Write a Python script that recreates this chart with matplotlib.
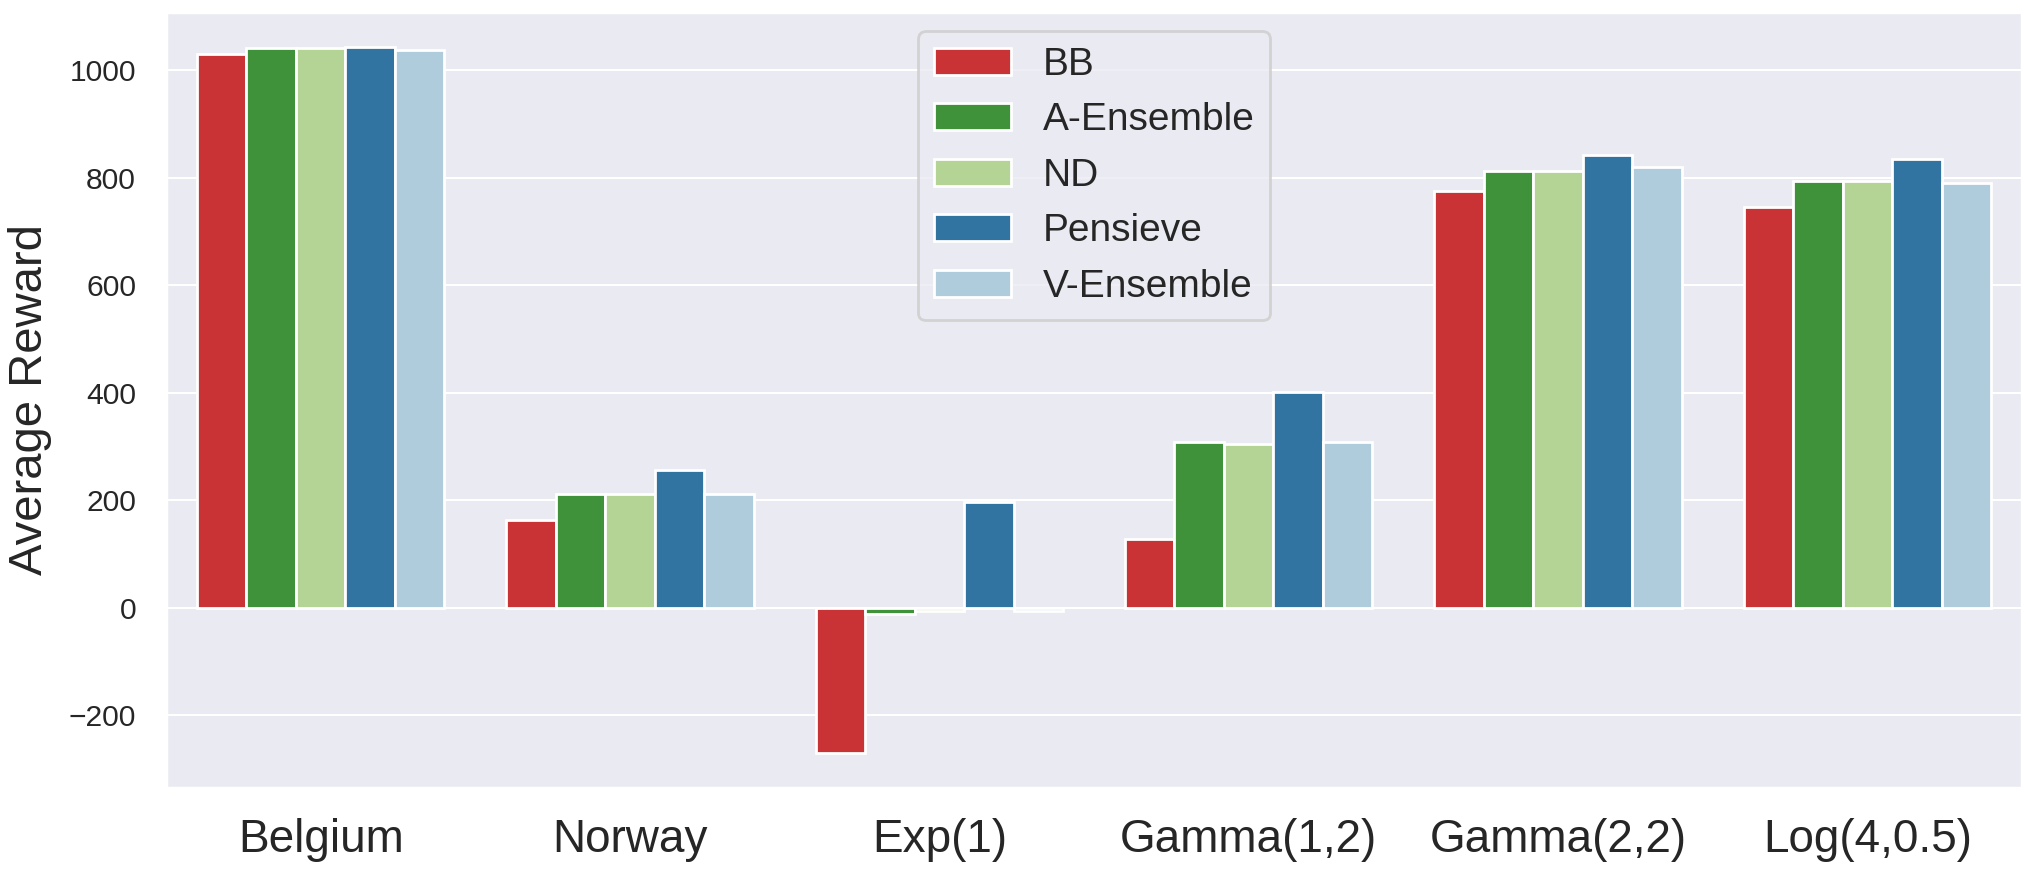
import matplotlib
matplotlib.use("Agg")
import matplotlib.pyplot as plt
import seaborn as sns
import pandas as pd

categories = ["Belgium", "Norway", "Exp(1)", "Gamma(1,2)", "Gamma(2,2)", "Log(4,0.5)"]
methods = ["BB", "A-Ensemble", "ND", "Pensieve", "V-Ensemble"]
bb = [1030, 163, -270, 127, 776, 746]
a_ensemble = [1041, 211, -11, 309, 813, 794]
nd = [1041, 211, -6, 305, 813, 794]
pensieve = [1043, 256, 197, 401, 842, 835]
v_ensemble = [1038, 211, -6, 309, 820, 791]

series = {"BB": bb, "A-Ensemble": a_ensemble, "ND": nd,
          "Pensieve": pensieve, "V-Ensemble": v_ensemble}
rows = []
for m in methods:
    for c, v in zip(categories, series[m]):
        rows.append({"Trace": c, "Method": m, "Reward": v})
df = pd.DataFrame(rows)

sns.set_theme(style="darkgrid")
plt.rcParams["font.family"] = ["Liberation Sans", "DejaVu Sans"]
plt.rcParams["grid.linewidth"] = 0.75

paired = sns.color_palette("Paired")
palette = [paired[5], paired[3], paired[2], paired[1], paired[0]]

fig, ax = plt.subplots(figsize=(10.15, 4.37), dpi=200)
fig.subplots_adjust(left=0.0818, right=0.9961, top=0.9863, bottom=0.0984)

sns.barplot(data=df, x="Trace", y="Reward", hue="Method", hue_order=methods,
            order=categories, palette=palette, ax=ax)

ax.set_xlabel("")
ax.set_ylabel("Average Reward", fontsize=17, labelpad=6)
ax.tick_params(axis="x", labelsize=16.5, pad=4.8)
ax.tick_params(axis="y", labelsize=10.8, pad=4.8)
ax.set_yticks([-200, 0, 200, 400, 600, 800, 1000])
ax.legend(loc="upper center", fontsize=14)

fig.savefig("out.png", dpi=200)
